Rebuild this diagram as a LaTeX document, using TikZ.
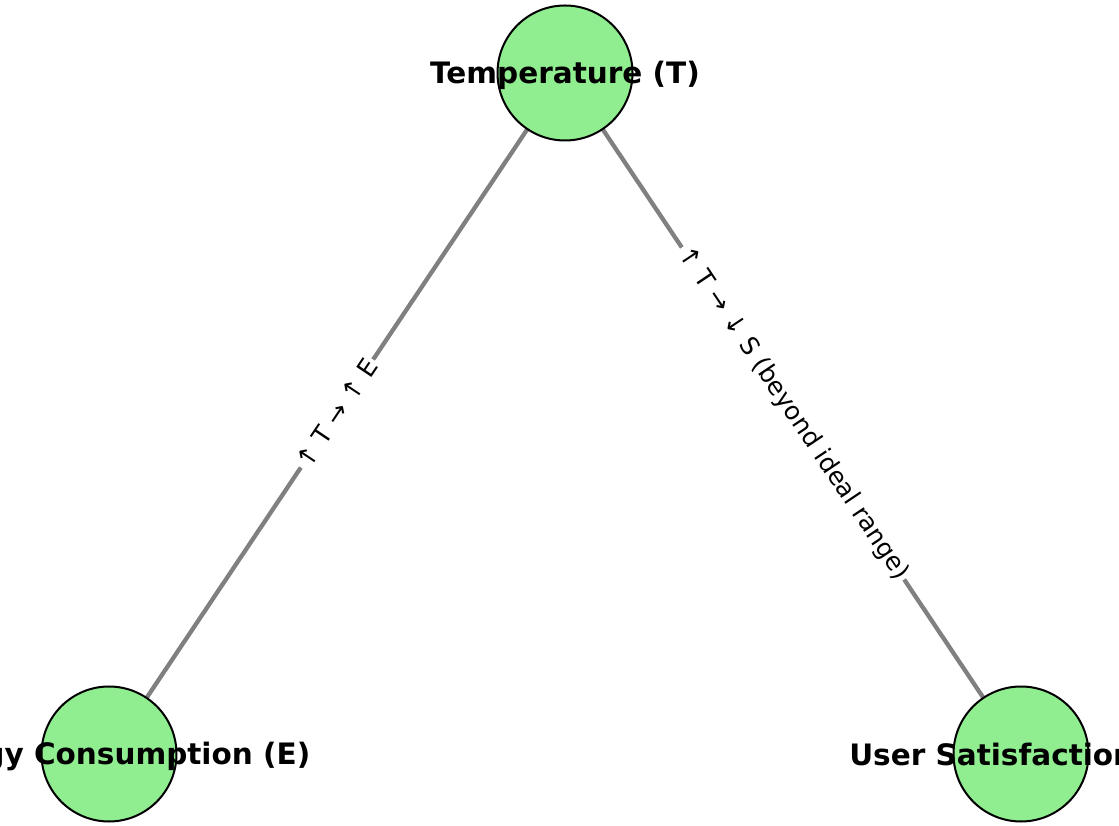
\documentclass[tikz,border=0pt]{standalone}
\usepackage{fontspec}
\newfontfamily\dvs{DejaVu Sans}
\begin{document}
\begin{tikzpicture}[x=1pt,y=1pt,
  vnode/.style={circle,draw=black,line width=2pt,fill={rgb,255:red,144;green,238;blue,144},minimum size=135pt,inner sep=0pt},
  vlabel/.style={font=\dvs\bfseries\fontsize{29.5}{29.5}\selectfont,text=black,yshift=-2pt},
  edge/.style={draw={rgb,255:red,128;green,128;blue,128},line width=4.3pt},
  elabel/.style={font=\dvs\fontsize{25}{25}\selectfont,fill=white,inner sep=2pt,sloped}]
\useasboundingbox (0,0) rectangle (1119,825);
\clip (0,0) rectangle (1119,825);
\coordinate (pT) at (565,752);
\coordinate (pE) at (109,71);
\coordinate (pS) at (1021,71);
\draw[edge] (pE) -- node[elabel] (lE) {↑ T → ↑ E} (pT);
\draw[edge] (pT) -- node[elabel] (lS) {↑ T → ↓ S (beyond ideal range)} (pS);
\node[vnode] (T) at (pT) {};
\node[vnode] (E) at (pE) {};
\node[vnode] (S) at (pS) {};
\node[vlabel] (tT) at (pT) {Temperature (T)};
\node[vlabel] (tE) at (pE) {Energy Consumption (E)};
\node[vlabel] (tS) at (pS) {User Satisfaction (S)};
\end{tikzpicture}
\end{document}
